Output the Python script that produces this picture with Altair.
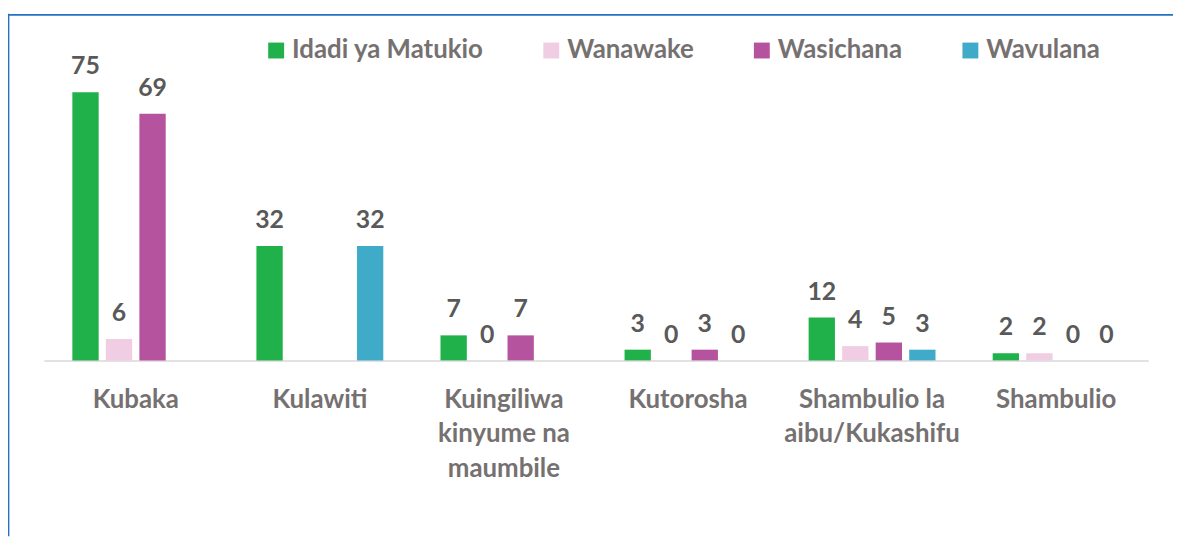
import altair as alt
import pandas as pd

categories = ["Kubaka", "Kulawiti", "Kuingiliwa\nkinyume na\nmaumbile", "Kutorosha",
              "Shambulio la\naibu/Kukashifu", "Shambulio"]
series = ["Idadi ya Matukio", "Wanawake", "Wasichana", "Wavulana"]
idadi = [75, 32, 7, 3, 12, 2]
wanawake = [6, None, 0, 0, 4, 2]
wasichana = [69, None, 7, 3, 5, 0]
wavulana = [None, 32, None, 0, 3, 0]
colors = ["#21B14B", "#F0CDE2", "#B5539F", "#40ABC8"]

rows = []
for s, vals in zip(series, [idadi, wanawake, wasichana, wavulana]):
    for c, v in zip(categories, vals):
        if v is not None:
            rows.append({"cat": c, "series": s, "value": v})
df = pd.DataFrame(rows)

W, H = 1112, 288
PAD = {"left": 36, "top": 65, "right": 25, "bottom": 177}
FONT = "Lato"

x = alt.X("cat:N", sort=categories,
          scale=alt.Scale(paddingInner=0, paddingOuter=0),
          axis=alt.Axis(title=None, labelAngle=0, ticks=False, domainColor="#D9D9D9",
                        domainWidth=1.5, labelFont=FONT, labelFontWeight="bold",
                        labelFontSize=26, labelColor="#767171", labelPadding=26,
                        labelLineHeight=35, labelBaseline="top",
                        labelExpr="split(datum.label, '\\n')", labelLimit=300,
                        labelOverlap=False))
xo = alt.XOffset("series:N", sort=series,
                 scale=alt.Scale(paddingInner=0.215, paddingOuter=0.853))
y = alt.Y("value:Q", scale=alt.Scale(domain=[0, 80], nice=False), axis=None)
color = alt.Color("series:N", sort=series,
                  scale=alt.Scale(domain=series, range=colors),
                  legend=alt.Legend(title=None, orient="none", direction="horizontal",
                                    legendX=221, legendY=-37, symbolType="square",
                                    symbolSize=256, symbolStrokeWidth=0,
                                    symbolOpacity=1,
                                    labelFont=FONT, labelFontWeight="bold",
                                    labelFontSize=26, labelColor="#767171",
                                    labelOffset=3, columnPadding=55, labelLimit=400,
                                    padding=0))

base = alt.Chart(df)
bars = base.mark_bar().encode(x=x, xOffset=xo, y=y, color=color)
labels = base.mark_text(font=FONT, fontWeight="bold", fontSize=25, color="#595959",
                        baseline="alphabetic", dy=-18).encode(
    x=x, xOffset=xo, y=y, text=alt.Text("value:Q"))

frame_data = alt.Chart(pd.DataFrame({"a": [0]}))
top_border = frame_data.mark_rule(color="#2472C0", strokeWidth=1.8).encode(
    x=alt.value(-36), x2=alt.value(W + 25), y=alt.value(-60))
left_border = frame_data.mark_rule(color="#2472C0", strokeWidth=1.8).encode(
    x=alt.value(-35.5), y=alt.value(-61), y2=alt.value(H + 177))

chart = alt.layer(top_border, left_border, bars, labels).properties(
    width=W, height=H, padding=PAD, autosize="none"
).configure_view(stroke=None)

chart.save("out.html", embed_options={"renderer": "svg", "actions": False})
